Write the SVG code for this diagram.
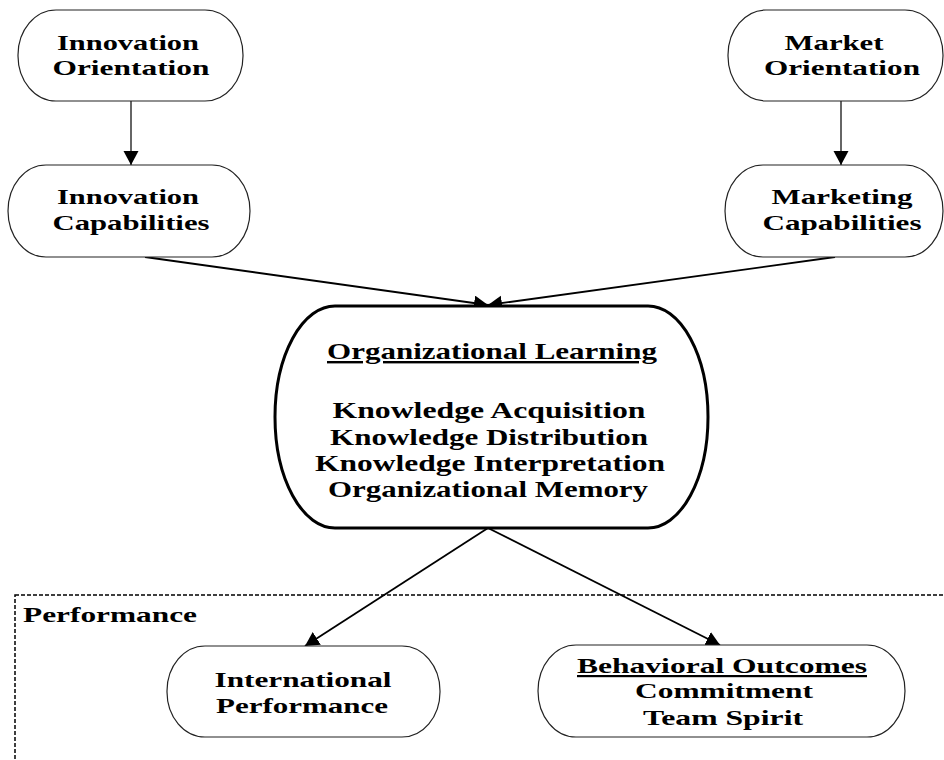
<svg xmlns="http://www.w3.org/2000/svg" width="944" height="760" viewBox="0 0 944 760">
<style>
.node{fill:#fff;stroke:#222;stroke-width:1.2}
.main{fill:#fff;stroke:#000;stroke-width:3}
.t{font-family:'Liberation Serif','Times New Roman',Times,serif;font-weight:700;font-size:22px;fill:#000;text-anchor:middle}
.tm{font-size:24px}
.u{text-decoration:underline}
.c{stroke:#000;stroke-width:1.8;fill:none;marker-end:url(#ah)}
.cv{stroke:#333;stroke-width:1.5;fill:none;marker-end:url(#ah)}
.dash{fill:none;stroke:#000;stroke-width:1.5;stroke-dasharray:4 2}
</style>
<defs>
<marker id="ah" markerUnits="userSpaceOnUse" markerWidth="15" markerHeight="16" refX="14" refY="7.5" orient="auto">
<path d="M0,0 L14,7.5 L0,15 z" fill="#000"/>
</marker>
</defs>
<rect width="944" height="760" fill="#fff"/>
<g id="performance-group">
<rect class="dash" x="15" y="595" width="945" height="190"/>
<text class="t" x="23" y="622" style="text-anchor:start" textLength="174" lengthAdjust="spacingAndGlyphs">Performance</text>
</g>
<g id="connectors">
<line class="cv" x1="131" y1="101" x2="131" y2="165"/>
<line class="cv" x1="841" y1="101" x2="841" y2="165"/>
<line class="c" x1="145" y1="257" x2="488" y2="305"/>
<line class="c" x1="835" y1="257" x2="488" y2="305"/>
<line class="c" x1="488" y1="528" x2="305" y2="646"/>
<line class="c" x1="488" y1="528" x2="720" y2="645"/>
</g>
<g id="innovation-orientation">
<rect class="node" x="18" y="10" width="225" height="91" rx="38" ry="45"/>
<text class="t" x="128" y="50" textLength="142" lengthAdjust="spacingAndGlyphs">Innovation</text>
<text class="t" x="131" y="75" textLength="157" lengthAdjust="spacingAndGlyphs">Orientation</text>
</g>
<g id="market-orientation">
<rect class="node" x="728" y="10" width="215" height="91" rx="38" ry="45"/>
<text class="t" x="834" y="50" textLength="99" lengthAdjust="spacingAndGlyphs">Market</text>
<text class="t" x="842" y="75" textLength="156" lengthAdjust="spacingAndGlyphs">Orientation</text>
</g>
<g id="innovation-capabilities">
<rect class="node" x="8" y="165" width="242" height="92" rx="38" ry="46"/>
<text class="t" x="128" y="204" textLength="142" lengthAdjust="spacingAndGlyphs">Innovation</text>
<text class="t" x="131" y="230" textLength="157" lengthAdjust="spacingAndGlyphs">Capabilities</text>
</g>
<g id="marketing-capabilities">
<rect class="node" x="725" y="165" width="218" height="92" rx="38" ry="46"/>
<text class="t" x="842" y="204" textLength="141" lengthAdjust="spacingAndGlyphs">Marketing</text>
<text class="t" x="842" y="230" textLength="159" lengthAdjust="spacingAndGlyphs">Capabilities</text>
</g>
<g id="organizational-learning">
<rect class="main" x="275" y="306" width="433" height="222" rx="60" ry="111"/>
<text class="t tm u" x="492" y="359" textLength="330" lengthAdjust="spacingAndGlyphs">Organizational Learning</text>
<text class="t tm" x="489" y="418" textLength="313" lengthAdjust="spacingAndGlyphs">Knowledge Acquisition</text>
<text class="t tm" x="489" y="445" textLength="318" lengthAdjust="spacingAndGlyphs">Knowledge Distribution</text>
<text class="t tm" x="490" y="471" textLength="350" lengthAdjust="spacingAndGlyphs">Knowledge Interpretation</text>
<text class="t tm" x="488" y="497" textLength="320" lengthAdjust="spacingAndGlyphs">Organizational Memory</text>
</g>
<g id="international-performance">
<rect class="node" x="167" y="646" width="273" height="91" rx="38" ry="45"/>
<text class="t" x="303" y="687" textLength="177" lengthAdjust="spacingAndGlyphs">International</text>
<text class="t" x="302" y="713" textLength="172" lengthAdjust="spacingAndGlyphs">Performance</text>
</g>
<g id="behavioral-outcomes">
<rect class="node" x="538" y="645" width="367" height="92" rx="38" ry="46"/>
<text class="t u" x="722" y="673" textLength="290" lengthAdjust="spacingAndGlyphs">Behavioral Outcomes</text>
<text class="t" x="724" y="698" textLength="178" lengthAdjust="spacingAndGlyphs">Commitment</text>
<text class="t" x="723" y="725" textLength="160" lengthAdjust="spacingAndGlyphs">Team Spirit</text>
</g>
</svg>
